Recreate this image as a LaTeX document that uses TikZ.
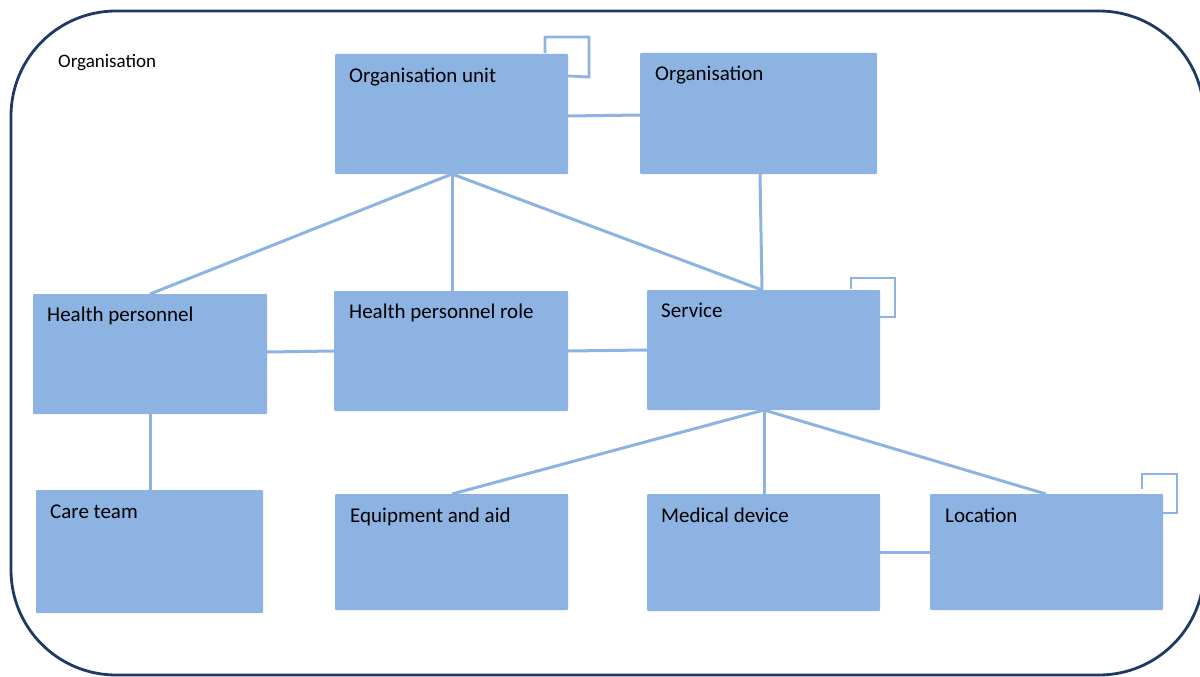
\documentclass[tikz,border=0pt]{standalone}
\usepackage{fontspec}
\setmainfont{Carlito}
\definecolor{boxblue}{HTML}{8DB3E2}
\definecolor{navy}{HTML}{1F3864}
\begin{document}
\begin{tikzpicture}[x=1pt,y=-1pt,
  ebox/.style={fill=boxblue,draw=none,rounded corners=1pt},
  conn/.style={draw=boxblue,line width=3pt},
  lbl/.style={font=\fontsize{21}{24}\selectfont,anchor=base west,inner sep=0pt,text=black}]
\useasboundingbox (0,0) rectangle (1200,677);
\begin{scope}
\clip (0,0) rectangle (1200,677);
\draw[navy,line width=2.8pt,rounded corners=105pt] (11,11) rectangle (1204,675);
\end{scope}
\node[font=\fontsize{19}{22}\selectfont,anchor=base west,inner sep=0pt] (orglbl) at (58,67) {Organisation};
% boxes
\path[ebox] (335,54) rectangle (568,174);
\coordinate (ouS) at (452,174);
\coordinate (ouE) at (568,116);
\node[lbl] (oul) at (349,82) {Organisation unit};
\path[ebox] (640,53) rectangle (877,174);
\coordinate (orgS) at (760,174); \coordinate (orgW) at (640,115);
\node[lbl] (orgl) at (655,81) {Organisation};
\path[ebox] (33,294) rectangle (267,414);
\coordinate (hpN) at (150,294); \coordinate (hpE) at (267,352); \coordinate (hpS) at (150,414);
\node[lbl] (hpl) at (47,321) {Health personnel};
\path[ebox] (334,291) rectangle (568,411);
\coordinate (hprN) at (452,291); \coordinate (hprW) at (334,351); \coordinate (hprE) at (568,351);
\node[lbl] (hprl) at (349,318) {Health personnel role};
\path[ebox] (647,290) rectangle (880,410);
\coordinate (svN) at (762,290); \coordinate (svW) at (647,350); \coordinate (svS) at (764,410);
\node[lbl] (svl) at (661,317) {Service};
\path[ebox] (36,490) rectangle (263,613);
\coordinate (ctN) at (150,490);
\node[lbl] (ctl) at (50,518) {Care team};
\path[ebox] (335,494) rectangle (568,610);
\coordinate (eqN) at (452,494);
\node[lbl] (eql) at (350,522) {Equipment and aid};
\path[ebox] (647,494) rectangle (880,611);
\coordinate (mdN) at (764,494); \coordinate (mdE) at (880,552);
\node[lbl] (mdl) at (661,522) {Medical device};
\path[ebox] (930,494) rectangle (1163,610);
\coordinate (loN) at (1046,494); \coordinate (loW) at (930,552);
\node[lbl] (lol) at (945,522) {Location};
% connectors
\draw[conn] (ouS) -- (hpN);
\draw[conn] (ouS) -- (hprN);
\draw[conn] (ouS) -- (svN);
\draw[conn] (orgS) -- (svN);
\draw[conn] (ouE) -- (orgW);
\draw[conn] (hpE) -- (hprW);
\draw[conn] (hprE) -- (svW);
\draw[conn] (hpS) -- (ctN);
\draw[conn] (svS) -- (eqN);
\draw[conn] (svS) -- (mdN);
\draw[conn] (svS) -- (loN);
\draw[conn] (mdE) -- (loW);
% self loops
\coordinate (ouL1) at (545,53); \coordinate (ouL2) at (568,76);
\draw[conn,line width=2.8pt] (ouL1) -- (545,37) -- (589,37) -- (589,77) -- (ouL2);
\coordinate (svL1) at (851,289); \coordinate (svL2) at (880,317);
\draw[conn,line width=2.8pt] (svL1) -- (851,278) -- (895,278) -- (895,317) -- (svL2);
\coordinate (loL1) at (1142,489); \coordinate (loL2) at (1163,513);
\draw[conn,line width=2.8pt] (loL1) -- (1142,474) -- (1177,474) -- (1177,513) -- (loL2);
\end{tikzpicture}
\end{document}
